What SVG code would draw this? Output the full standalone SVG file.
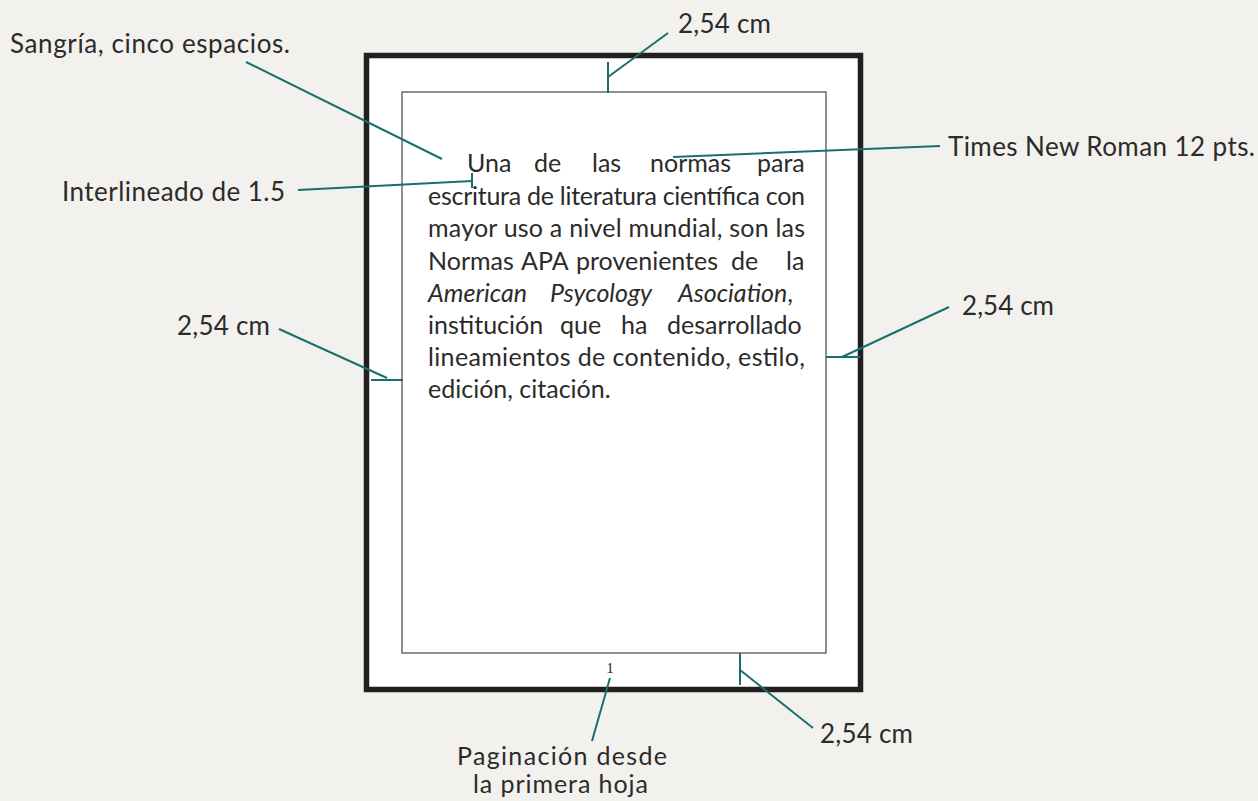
<svg xmlns="http://www.w3.org/2000/svg" width="1258" height="801" viewBox="0 0 1258 801">
  <style>
    .lbl { font-family: Lato, "Liberation Sans", sans-serif; font-size: 26px; fill: #2b2b2b; }
    .body { font-family: Lato, "Liberation Sans", sans-serif; font-size: 25px; fill: #2b2b2b; }
    .it { font-style: italic; }
    .pg { font-family: "Liberation Serif", serif; font-size: 15px; fill: #222222; }
    .conn line { stroke: #17706e; stroke-width: 2; fill: none; }
  </style>
  <rect x="0" y="0" width="1258" height="801" fill="#f2f1ed"/>

  <g id="page">
    <rect x="366.5" y="55.5" width="494" height="634" fill="#ffffff" stroke="#231f20" stroke-width="5.5"/>
    <rect x="402" y="92" width="424" height="561" fill="#ffffff" stroke="#555555" stroke-width="1.3"/>
  </g>

  <g id="body-text">
    <text class="body" y="172"><tspan x="467">Una</tspan><tspan x="534">de</tspan><tspan x="592">las</tspan><tspan x="650">normas</tspan><tspan x="757">para</tspan></text>
    <text class="body" x="428" y="204.5" textLength="377" lengthAdjust="spacing">escritura de literatura científica con</text>
    <text class="body" x="428" y="237" textLength="377" lengthAdjust="spacing">mayor uso a nivel mundial, son las</text>
    <text class="body" y="270"><tspan x="428">Normas</tspan><tspan x="521">APA</tspan><tspan x="576">provenientes</tspan><tspan x="731">de</tspan><tspan x="786">la</tspan></text>
    <text class="body" y="302"><tspan x="428" class="it">American</tspan><tspan x="550" class="it">Psycology</tspan><tspan x="678" class="it">Asociation</tspan><tspan>,</tspan></text>
    <text class="body" y="334"><tspan x="428">institución</tspan><tspan x="560">que</tspan><tspan x="621">ha</tspan><tspan x="667">desarrollado</tspan></text>
    <text class="body" x="428" y="366" textLength="377" lengthAdjust="spacing">lineamientos de contenido, estilo,</text>
    <text class="body" x="428" y="398">edición, citación.</text>
    <text class="pg" x="610" y="673" text-anchor="middle">1</text>
  </g>

  <g id="label-sangria"><text class="lbl" x="10" y="53" textLength="280" lengthAdjust="spacing">Sangría, cinco espacios.</text></g>
  <g id="label-top"><text class="lbl" x="678" y="33" textLength="93" lengthAdjust="spacing">2,54 cm</text></g>
  <g id="label-times"><text class="lbl" x="948" y="156" textLength="307" lengthAdjust="spacing">Times New Roman 12 pts.</text></g>
  <g id="label-interlineado"><text class="lbl" x="62" y="201" textLength="223" lengthAdjust="spacing">Interlineado de 1.5</text></g>
  <g id="label-left"><text class="lbl" x="177" y="335" textLength="93" lengthAdjust="spacing">2,54 cm</text></g>
  <g id="label-right"><text class="lbl" x="962" y="315" textLength="92" lengthAdjust="spacing">2,54 cm</text></g>
  <g id="label-bottom"><text class="lbl" x="820" y="743" textLength="93" lengthAdjust="spacing">2,54 cm</text></g>
  <g id="label-paginacion">
    <text class="lbl" x="457" y="765" textLength="210" lengthAdjust="spacing" style="font-size:25px">Paginación desde</text>
    <text class="lbl" x="473" y="793" textLength="175" lengthAdjust="spacing" style="font-size:25px">la primera hoja</text>
  </g>

  <g id="connectors" class="conn">
    <line x1="608" y1="62" x2="608" y2="93"/>
    <line x1="608" y1="77" x2="668" y2="33"/>
    <line x1="246" y1="62" x2="442" y2="159"/>
    <line x1="298" y1="190" x2="472" y2="181"/>
    <line x1="472" y1="173" x2="472" y2="188"/>
    <line x1="673" y1="157" x2="940" y2="146"/>
    <line x1="279" y1="329" x2="387" y2="378"/>
    <line x1="371" y1="380" x2="403" y2="380"/>
    <line x1="826" y1="357" x2="860" y2="357"/>
    <line x1="842" y1="357" x2="949" y2="307"/>
    <line x1="740" y1="653" x2="740" y2="685"/>
    <line x1="740" y1="670" x2="813" y2="728"/>
    <line x1="610" y1="678" x2="592" y2="741"/>
  </g>
</svg>
